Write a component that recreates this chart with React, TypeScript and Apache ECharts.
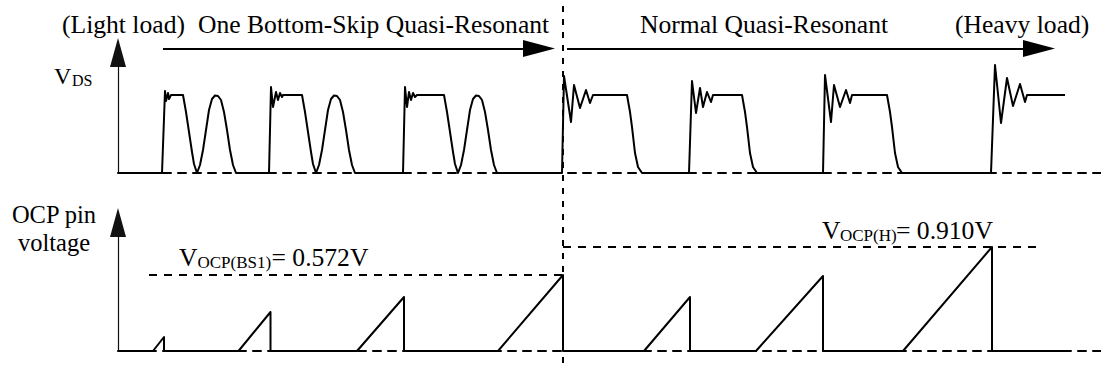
import React, { useEffect, useRef } from 'react';
import * as echarts from 'echarts';

// Time axis: arbitrary time units from the vertical axes (t = 0) to the right edge.
const timeSpan = 983;

// V_DS waveform: [time, relative level] (plateau = 78)
const vdsWave: [number, number][] = [
  [0, 0], [44, 0], [47, 82], [48, 72], [50, 80], [51, 74], [53, 78], [65, 78],
  [68, 61], [71, 41], [74, 21], [76, 9], [79, 0], [82, 8], [85, 23], [88, 43], [91, 63], [94, 74],
  [97, 77.5], [100, 77], [103, 73], [106, 61], [109, 43], [112, 23], [115, 8], [118, 0],
  [151, 0], [153, 86], [155, 66], [158, 81], [160, 73], [162, 80], [164, 76], [165, 78], [184, 78],
  [187, 61], [190, 41], [193, 21], [195, 9], [198, 0], [201, 8], [204, 23], [207, 43], [210, 63], [213, 74],
  [216, 77.5], [219, 77], [222, 73], [225, 61], [228, 43], [231, 23], [234, 8], [237, 0],
  [285, 0], [287, 86], [289, 66], [291, 81], [293, 73], [295, 80], [297, 76], [299, 78], [326, 78],
  [329, 61], [332, 41], [335, 21], [337, 9], [340, 0], [343, 8], [346, 23], [349, 43], [352, 63], [355, 74],
  [358, 77.5], [361, 77], [364, 73], [367, 61], [370, 43], [373, 23], [376, 8], [379, 0],
  [444, 0], [446, 97], [453, 51], [456, 88], [462, 65], [468, 83], [472, 70], [475, 78], [509, 78],
  [512, 61], [514, 46], [517, 20], [520, 6], [524, 0],
  [571, 0], [574, 92], [578, 60], [582, 85], [585, 66], [589, 81], [593, 71], [595, 78], [624, 78],
  [627, 61], [629, 46], [632, 20], [635, 6], [639, 0],
  [705, 0], [707, 98], [713, 51], [716, 88], [722, 66], [728, 83], [732, 70], [734, 78], [769, 78],
  [772, 61], [774, 46], [777, 20], [780, 6], [784, 0],
  [873, 0], [877, 108], [883, 50], [889, 95], [895, 67], [902, 89], [907, 71], [909, 78], [947, 78],
];

// OCP pin voltage waveform: [time, relative level]
const ocpWave: [number, number][] = [
  [0, 0], [35, 0], [46, 14], [46, 0], [120.5, 0], [152.5, 39], [152.5, 0],
  [239, 0], [286, 54], [286, 0], [380, 0], [445, 76], [445, 0],
  [526, 0], [572, 54], [572, 0], [638, 0], [705, 75], [705, 0],
  [785, 0], [874, 104], [874, 0], [949, 0],
];

// OCP thresholds
const thresholdLevel = [76, 104];
const thresholdFrom = [31, 445];
const thresholdTo = [445, 919];
const thresholdSub = ['OCP(BS1)', 'OCP(H)'];
const thresholdValue = ['= 0.572V', '= 0.910V'];

// Operating modes
const modeBoundary = 445;
const modeNames = ['One Bottom-Skip Quasi-Resonant', 'Normal Quasi-Resonant'];
const modeFrom = [45, 449];
const modeTo = [437, 937];
const loadNames = ['(Light load)', '(Heavy load)'];

const FONT = 'Liberation Serif, Times New Roman, serif';

export default function App() {
  const ref = useRef<HTMLDivElement>(null);
  useEffect(() => {
    if (!ref.current) return;
    const chart = echarts.init(ref.current, undefined, { renderer: 'svg' });
    const hidden = { show: false };
    const dashed = [8, 7];
    const txt = (text: string, x: number, y: number, size: number, align = 'left') => ({
      type: 'text',
      x,
      y,
      silent: true,
      style: { text, fontSize: size, fontFamily: FONT, fill: '#000', align, verticalAlign: 'middle' },
    });
    const headLen = 32;
    chart.setOption({
      animation: false,
      backgroundColor: '#fff',
      grid: [
        { left: 118, right: 0, top: 52.5, height: 120.5 },
        { left: 118, right: 0, top: 222.5, height: 128.5 },
        { left: 118, right: 0, top: 0, height: 367 },
      ],
      xAxis: [0, 1, 2].map((i) => ({
        gridIndex: i,
        type: 'value',
        min: 0,
        max: timeSpan,
        show: i !== 2,
        axisLine: { show: true, lineStyle: { color: '#000', width: 2, type: dashed } },
        axisTick: hidden,
        axisLabel: hidden,
        splitLine: hidden,
      })),
      yAxis: [
        { gridIndex: 0, max: 120.5 },
        { gridIndex: 1, max: 128.5 },
        { gridIndex: 2, max: 367, inverse: true, show: false },
      ].map((a) => ({
        type: 'value',
        min: 0,
        ...a,
        axisLine: {
          show: true,
          symbol: ['none', 'triangle'],
          symbolSize: [16, 29],
          lineStyle: { color: '#111', width: 1.2 },
        },
        axisTick: hidden,
        axisLabel: hidden,
        splitLine: hidden,
      })),
      series: [
        {
          type: 'line',
          xAxisIndex: 0,
          yAxisIndex: 0,
          data: vdsWave,
          symbol: 'none',
          silent: true,
          z: 5,
          lineStyle: { color: '#000', width: 2, join: 'round' },
        },
        {
          type: 'line',
          xAxisIndex: 1,
          yAxisIndex: 1,
          data: ocpWave,
          symbol: 'none',
          silent: true,
          z: 5,
          lineStyle: { color: '#000', width: 2, join: 'round' },
          markLine: {
            silent: true,
            symbol: 'none',
            label: { show: false },
            lineStyle: { color: '#000', width: 2, type: dashed },
            emphasis: { disabled: true },
            data: thresholdLevel.map((lv, i) => [
              { coord: [thresholdFrom[i], lv] },
              { coord: [thresholdTo[i], lv] },
            ]),
          },
        },
        {
          type: 'line',
          xAxisIndex: 2,
          yAxisIndex: 2,
          data: [],
          symbol: 'none',
          silent: true,
          markLine: {
            silent: true,
            symbol: ['none', 'triangle'],
            symbolSize: [17, headLen],
            label: { show: false },
            emphasis: { disabled: true },
            lineStyle: { color: '#000', width: 2, type: 'solid' },
            data: [
              ...modeNames.map((_, i) => [
                { coord: [modeFrom[i], 48.5] },
                { coord: [modeTo[i] - headLen / 2, 48.5] },
              ]),
              [
                { coord: [modeBoundary, 6], symbol: 'none', lineStyle: { color: '#000', width: 2, type: [6, 7] } },
                { coord: [modeBoundary, 367], symbol: 'none' },
              ],
            ],
          },
        },
      ],
      graphic: [
        txt(loadNames[0], 62, 24, 25.6),
        txt(modeNames[0], 198, 24, 25.6),
        txt(modeNames[1], 640, 24, 25.6),
        txt(loadNames[1], 955, 24, 25.6),
        txt('V', 54, 76, 24),
        txt('DS', 72, 80.5, 16),
        txt('OCP pin', 54, 214, 24.5, 'center'),
        txt('voltage', 54, 242, 24.5, 'center'),
        txt('V', 179, 257, 25.6),
        txt(thresholdSub[0], 197.5, 262.5, 17),
        txt(thresholdValue[0], 271.5, 257, 25.6),
        txt('V', 822, 230, 25.6),
        txt(thresholdSub[1], 840, 235.5, 17),
        txt(thresholdValue[1], 896, 230, 25.6),
      ],
    });
    return () => chart.dispose();
  }, []);
  return (
    <div
      ref={ref}
      style={{ position: 'absolute', left: 0, top: 0, width: 1101, height: 367 }}
    />
  );
}
